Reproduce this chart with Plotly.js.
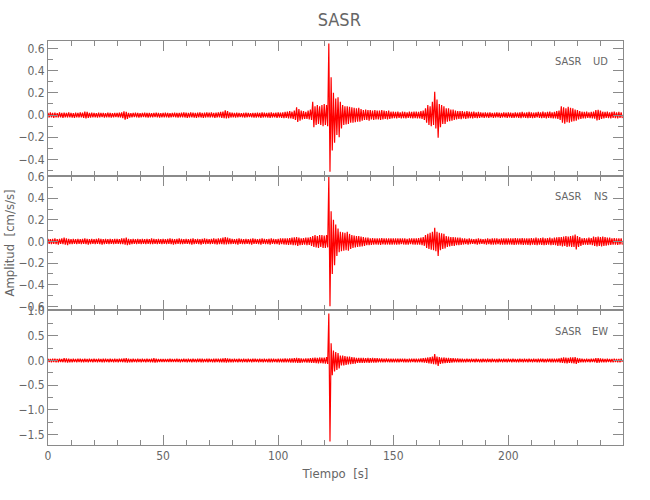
<!DOCTYPE html>
<html>
<head>
<meta charset="utf-8">
<script src="https://cdn.plot.ly/plotly-3.0.1.min.js"></script>
<style>html,body{margin:0;padding:0;background:#fff;}#chart{width:650px;height:500px;}</style>
</head>
<body>
<div id="chart"></div>
<script>
// Per-second envelope (max / min) of each component, cm/s/s
const UD_max = [
.02,.025,.02,.022,.018,.025,.02,.022,.02,.025,
.02,.018,.022,.02,.025,.022,.03,.028,.02,.022,
.02,.018,.022,.02,.02,.018,.022,.02,.018,.02,
.02,.022,.025,.033,.03,.02,.018,.02,.022,.02,
.018,.02,.022,.02,.02,.018,.02,.022,.02,.018,
.02,.022,.02,.018,.02,.022,.02,.02,.022,.025,
.022,.02,.025,.022,.02,.022,.025,.02,.022,.025,
.022,.025,.02,.022,.025,.028,.03,.042,.035,.025,
.022,.02,.022,.02,.018,.02,.022,.02,.018,.02,
.02,.022,.02,.025,.022,.02,.022,.025,.02,.022,
.025,.022,.025,.028,.03,.035,.03,.04,.07,.055,
.04,.035,.03,.04,.05,.12,.08,.09,.08,.09,
.1,.09,.645,.34,.2,.15,.16,.12,.09,.08,
.08,.075,.07,.065,.06,.065,.055,.045,.05,.045,
.045,.04,.045,.04,.04,.045,.04,.035,.04,.03,
.03,.028,.03,.025,.03,.028,.025,.03,.028,.03,
.03,.028,.035,.04,.06,.09,.08,.12,.21,.14,
.1,.09,.08,.06,.06,.05,.05,.04,.036,.035,
.035,.03,.036,.03,.028,.03,.025,.028,.025,.022,
.025,.022,.025,.02,.022,.025,.022,.02,.025,.022,
.025,.022,.02,.025,.022,.025,.028,.022,.025,.028,
.025,.022,.025,.028,.025,.03,.025,.028,.03,.025,
.028,.035,.04,.078,.07,.06,.075,.065,.06,.05,
.045,.035,.03,.028,.03,.025,.028,.03,.045,.048,
.04,.03,.028,.03,.025,.028,.03,.025,.028,.025];
const UD_min = [
-.022,-.02,-.025,-.02,-.022,-.02,-.025,-.02,-.022,-.02,
-.022,-.025,-.02,-.022,-.02,-.025,-.03,-.025,-.022,-.02,
-.02,-.022,-.02,-.018,-.022,-.02,-.02,-.022,-.02,-.018,
-.02,-.022,-.028,-.042,-.035,-.022,-.02,-.018,-.02,-.022,
-.02,-.018,-.02,-.022,-.02,-.02,-.018,-.02,-.022,-.02,
-.02,-.02,-.022,-.02,-.018,-.02,-.022,-.02,-.02,-.022,
-.025,-.022,-.02,-.022,-.025,-.02,-.022,-.025,-.022,-.02,
-.022,-.02,-.025,-.022,-.022,-.025,-.028,-.03,-.028,-.022,
-.02,-.022,-.02,-.018,-.02,-.022,-.02,-.018,-.02,-.022,
-.022,-.02,-.025,-.022,-.02,-.022,-.025,-.022,-.02,-.025,
-.022,-.025,-.028,-.025,-.03,-.03,-.035,-.045,-.063,-.05,
-.04,-.035,-.035,-.04,-.045,-.11,-.09,-.08,-.09,-.1,
-.09,-.1,-.51,-.32,-.25,-.18,-.2,-.12,-.09,-.085,
-.08,-.07,-.07,-.065,-.06,-.06,-.05,-.045,-.045,-.05,
-.04,-.045,-.04,-.04,-.045,-.04,-.035,-.04,-.035,-.03,
-.028,-.03,-.025,-.03,-.028,-.03,-.025,-.028,-.03,-.028,
-.03,-.03,-.035,-.045,-.07,-.09,-.1,-.09,-.12,-.205,
-.11,-.08,-.08,-.06,-.055,-.05,-.045,-.04,-.035,-.036,
-.03,-.035,-.03,-.028,-.03,-.025,-.028,-.025,-.022,-.025,
-.022,-.025,-.02,-.025,-.022,-.02,-.025,-.022,-.022,-.025,
-.022,-.025,-.025,-.022,-.025,-.028,-.022,-.025,-.028,-.025,
-.028,-.025,-.022,-.025,-.028,-.025,-.03,-.025,-.028,-.03,
-.03,-.035,-.045,-.07,-.078,-.065,-.07,-.06,-.055,-.05,
-.04,-.035,-.03,-.03,-.025,-.028,-.03,-.032,-.048,-.045,
-.035,-.03,-.025,-.028,-.03,-.025,-.028,-.03,-.025,-.028];
const NS_max = [
.025,.022,.025,.028,.022,.025,.028,.035,.03,.025,
.022,.025,.022,.025,.022,.025,.028,.025,.022,.025,
.022,.025,.028,.025,.022,.025,.022,.025,.022,.025,
.025,.022,.028,.03,.035,.025,.022,.025,.022,.025,
.022,.025,.022,.025,.022,.028,.025,.022,.025,.022,
.025,.022,.025,.028,.025,.022,.025,.028,.025,.022,
.025,.022,.025,.028,.022,.025,.022,.025,.028,.025,
.022,.025,.028,.025,.03,.028,.035,.04,.035,.028,
.025,.022,.025,.028,.025,.022,.025,.022,.025,.028,
.025,.022,.025,.028,.025,.022,.025,.028,.025,.022,
.025,.028,.03,.028,.03,.032,.035,.038,.04,.035,
.03,.032,.035,.035,.04,.05,.06,.05,.06,.06,
.055,.06,.6,.28,.2,.157,.12,.09,.085,.08,
.09,.07,.06,.055,.05,.05,.046,.04,.035,.035,
.03,.032,.03,.028,.03,.032,.03,.028,.03,.028,
.03,.028,.03,.028,.03,.028,.025,.028,.03,.028,
.03,.032,.035,.04,.06,.07,.08,.09,.126,.09,
.08,.075,.07,.05,.045,.04,.04,.038,.035,.035,
.03,.028,.025,.028,.025,.022,.025,.028,.025,.022,
.025,.028,.025,.028,.03,.028,.025,.028,.03,.028,
.03,.028,.03,.032,.028,.03,.032,.03,.028,.03,
.032,.03,.035,.03,.032,.035,.03,.032,.035,.03,
.035,.038,.04,.04,.045,.05,.045,.05,.055,.065,
.05,.04,.03,.032,.03,.035,.032,.045,.04,.046,
.04,.045,.04,.035,.035,.03,.032,.03,.028,.03];
const NS_min = [
-.022,-.025,-.022,-.025,-.028,-.022,-.025,-.03,-.035,-.025,
-.025,-.022,-.025,-.022,-.025,-.022,-.025,-.028,-.025,-.022,
-.025,-.022,-.025,-.028,-.025,-.022,-.025,-.022,-.025,-.022,
-.022,-.025,-.025,-.03,-.035,-.028,-.025,-.022,-.025,-.022,
-.025,-.022,-.025,-.022,-.025,-.025,-.022,-.025,-.022,-.025,
-.022,-.025,-.022,-.025,-.028,-.025,-.022,-.025,-.025,-.022,
-.022,-.025,-.028,-.025,-.022,-.025,-.028,-.022,-.025,-.022,
-.025,-.022,-.025,-.028,-.025,-.025,-.028,-.028,-.025,-.025,
-.022,-.025,-.028,-.022,-.025,-.025,-.022,-.025,-.028,-.022,
-.022,-.025,-.028,-.022,-.025,-.025,-.028,-.022,-.025,-.025,
-.028,-.025,-.028,-.03,-.032,-.03,-.035,-.035,-.04,-.035,
-.032,-.03,-.035,-.032,-.04,-.05,-.055,-.06,-.05,-.06,
-.06,-.055,-.6,-.3,-.22,-.135,-.1,-.09,-.085,-.08,
-.085,-.07,-.06,-.055,-.05,-.048,-.045,-.04,-.035,-.035,
-.032,-.03,-.028,-.03,-.032,-.028,-.03,-.028,-.03,-.03,
-.028,-.03,-.028,-.025,-.028,-.03,-.028,-.025,-.028,-.03,
-.03,-.03,-.035,-.04,-.06,-.07,-.075,-.08,-.09,-.135,
-.08,-.07,-.065,-.05,-.045,-.042,-.04,-.035,-.035,-.032,
-.028,-.025,-.028,-.025,-.022,-.025,-.028,-.025,-.022,-.025,
-.028,-.025,-.028,-.03,-.028,-.025,-.028,-.03,-.028,-.03,
-.028,-.03,-.032,-.03,-.028,-.03,-.032,-.03,-.032,-.035,
-.03,-.032,-.035,-.03,-.032,-.035,-.032,-.03,-.035,-.032,
-.035,-.04,-.038,-.045,-.04,-.05,-.045,-.05,-.05,-.074,
-.05,-.04,-.032,-.03,-.032,-.03,-.035,-.04,-.045,-.04,
-.045,-.04,-.038,-.035,-.032,-.03,-.03,-.032,-.028,-.03];
const EW_max = [
.035,.03,.035,.038,.032,.035,.03,.045,.042,.035,
.032,.035,.03,.035,.038,.032,.035,.03,.035,.032,
.035,.032,.035,.03,.035,.038,.032,.035,.03,.035,
.032,.035,.038,.04,.045,.035,.032,.035,.03,.035,
.032,.035,.03,.035,.032,.035,.045,.035,.03,.032,
.03,.032,.03,.035,.03,.032,.035,.03,.032,.035,
.032,.035,.03,.035,.032,.035,.038,.035,.032,.035,
.035,.032,.035,.038,.035,.035,.04,.045,.04,.035,
.032,.035,.03,.035,.032,.035,.03,.035,.032,.035,
.035,.032,.035,.03,.035,.032,.035,.038,.035,.032,
.035,.038,.035,.04,.038,.04,.042,.045,.05,.045,
.04,.038,.04,.042,.045,.05,.055,.05,.06,.055,
.06,.07,.95,.35,.2,.17,.15,.1,.1,.09,
.08,.08,.07,.065,.05,.05,.05,.05,.045,.05,
.045,.05,.045,.045,.04,.04,.038,.04,.035,.038,
.035,.038,.035,.035,.038,.035,.032,.035,.038,.035,
.035,.038,.04,.045,.05,.06,.07,.08,.128,.08,
.07,.06,.06,.05,.05,.045,.045,.04,.04,.038,
.035,.032,.035,.03,.035,.032,.035,.03,.032,.035,
.032,.035,.03,.035,.032,.03,.035,.032,.035,.03,
.035,.032,.035,.03,.032,.035,.03,.035,.032,.035,
.03,.035,.032,.035,.038,.035,.032,.035,.038,.035,
.035,.038,.04,.05,.06,.055,.05,.06,.065,.067,
.05,.04,.035,.032,.035,.032,.035,.038,.045,.047,
.04,.035,.032,.035,.03,.032,.035,.03,.032,.035];
const EW_min = [
-.032,-.035,-.03,-.035,-.035,-.032,-.035,-.04,-.045,-.035,
-.035,-.03,-.035,-.032,-.035,-.035,-.03,-.035,-.032,-.035,
-.03,-.035,-.032,-.035,-.035,-.03,-.035,-.032,-.035,-.03,
-.035,-.032,-.035,-.04,-.045,-.038,-.035,-.03,-.035,-.032,
-.035,-.03,-.035,-.032,-.035,-.038,-.042,-.035,-.032,-.03,
-.032,-.03,-.032,-.03,-.032,-.03,-.032,-.035,-.03,-.032,
-.035,-.032,-.035,-.03,-.035,-.032,-.035,-.035,-.03,-.035,
-.032,-.035,-.035,-.032,-.035,-.038,-.04,-.045,-.04,-.035,
-.035,-.032,-.035,-.03,-.035,-.032,-.035,-.03,-.035,-.032,
-.032,-.035,-.03,-.035,-.032,-.035,-.038,-.035,-.032,-.035,
-.038,-.035,-.04,-.038,-.04,-.042,-.045,-.045,-.05,-.048,
-.042,-.04,-.042,-.045,-.048,-.05,-.055,-.06,-.055,-.06,
-.065,-.07,-1.64,-.3,-.22,-.19,-.16,-.1,-.1,-.09,
-.08,-.075,-.07,-.065,-.05,-.05,-.048,-.05,-.045,-.048,
-.045,-.045,-.042,-.04,-.04,-.038,-.04,-.035,-.038,-.035,
-.035,-.035,-.038,-.032,-.035,-.035,-.038,-.035,-.032,-.035,
-.038,-.035,-.04,-.045,-.05,-.06,-.065,-.075,-.08,-.11,
-.07,-.06,-.055,-.05,-.048,-.045,-.04,-.04,-.038,-.035,
-.035,-.035,-.032,-.035,-.03,-.035,-.032,-.035,-.035,-.032,
-.035,-.032,-.035,-.032,-.035,-.035,-.032,-.035,-.03,-.035,
-.032,-.035,-.03,-.035,-.035,-.032,-.035,-.032,-.035,-.03,
-.035,-.032,-.035,-.035,-.032,-.038,-.035,-.032,-.035,-.038,
-.038,-.035,-.042,-.05,-.055,-.06,-.05,-.055,-.06,-.067,
-.05,-.04,-.035,-.035,-.032,-.035,-.032,-.035,-.047,-.045,
-.038,-.035,-.035,-.032,-.035,-.035,-.032,-.035,-.035,-.032];

const station = 'SASR';
const components = ['UD', 'NS', 'EW'];
const xTitle = 'Tiempo\u00a0 [s]';
const yTitle = 'Amplitud\u00a0 [cm/s/s]';

// 1-s bins: the max of each second drawn at its start, the min half a second later
function trace(maxArr, minArr, xa, ya) {
  const x = [], y = [];
  for (let i = 0; i < maxArr.length; i++) {
    x.push(i, i + 0.5);
    y.push(maxArr[i], minArr[i]);
  }
  return {x: x, y: y, xaxis: xa, yaxis: ya, type: 'scatter', mode: 'lines',
          line: {color: '#ff0000', width: 1.2}, hoverinfo: 'skip', showlegend: false};
}

const FONT = '"Liberation Sans Narrow", "DejaVu Sans Condensed", "Liberation Sans", sans-serif';
const GRAY = '#8a8a8a';
const TXT = '#666666';
const XRANGE = [0, 249.8];

function axisBase() {
  return {showline: true, linecolor: GRAY, linewidth: 1, mirror: 'ticks',
          ticks: 'inside', ticklen: 10, tickwidth: 1, tickcolor: GRAY,
          showgrid: false, zeroline: false,
          tickfont: {family: FONT, size: 12, color: TXT}};
}

const xb = Object.assign(axisBase(), {domain: [0, 1], anchor: 'y3', range: XRANGE, tick0: 0, dtick: 50,
  minor: {ticks: 'inside', ticklen: 5, dtick: 10, tickcolor: GRAY},
  title: {text: xTitle, font: {family: FONT, size: 13, color: TXT}, standoff: 6}});
const x2 = Object.assign(axisBase(), {domain: [0, 1], anchor: 'y2', matches: 'x', range: XRANGE, tick0: 0, dtick: 50,
  showticklabels: false, minor: {ticks: 'inside', ticklen: 5, dtick: 10, tickcolor: GRAY}});
const x3 = Object.assign(axisBase(), {domain: [0, 1], anchor: 'y', matches: 'x', range: XRANGE, tick0: 0, dtick: 50,
  showticklabels: false, minor: {ticks: 'inside', ticklen: 5, dtick: 10, tickcolor: GRAY}});

const y1 = Object.assign(axisBase(), {domain: [2/3, 1], anchor: 'x3', range: [-0.546, 0.667], tick0: 0, dtick: 0.2,
  tickformat: '.1f', minor: {ticks: 'inside', ticklen: 5, dtick: 0.1, tickcolor: GRAY}});
const y2 = Object.assign(axisBase(), {domain: [1/3, 2/3], anchor: 'x2', range: [-0.637, 0.609], tick0: 0, dtick: 0.2,
  tickformat: '.1f', minor: {ticks: 'inside', ticklen: 5, dtick: 0.1, tickcolor: GRAY},
  title: {text: yTitle, font: {family: FONT, size: 13, color: TXT}, standoff: 0}});
const y3 = Object.assign(axisBase(), {domain: [0, 1/3], anchor: 'x', range: [-1.71, 1.014], tick0: 0, dtick: 0.5,
  tickformat: '.1f', minor: {ticks: 'inside', ticklen: 5, dtick: 0.25, tickcolor: GRAY}});

const yrefs = ['y domain', 'y2 domain', 'y3 domain'];
const annotations = [];
components.forEach(function (c, k) {
  annotations.push({xref: 'paper', yref: yrefs[k], x: (584 - 48) / 575, y: 0.845, xanchor: 'right', yanchor: 'middle',
    text: station, showarrow: false, font: {family: FONT, size: 11, color: TXT}});
  annotations.push({xref: 'paper', yref: yrefs[k], x: (610 - 48) / 575, y: 0.845, xanchor: 'right', yanchor: 'middle',
    text: c, showarrow: false, font: {family: FONT, size: 11, color: TXT}});
});

const layout = {
  width: 650, height: 500,
  margin: {l: 48, r: 27, t: 41, b: 55, pad: 0},
  paper_bgcolor: '#ffffff', plot_bgcolor: '#ffffff',
  title: {text: station, font: {family: FONT, size: 18, color: TXT}, xref: 'container', x: 0.522, y: 0.96,
          xanchor: 'center', yanchor: 'middle'},
  xaxis: xb, xaxis2: x2, xaxis3: x3,
  yaxis: y1, yaxis2: y2, yaxis3: y3,
  annotations: annotations,
  showlegend: false
};

const data = [
  trace(UD_max, UD_min, 'x3', 'y'),
  trace(NS_max, NS_min, 'x2', 'y2'),
  trace(EW_max, EW_min, 'x', 'y3')
];

Plotly.newPlot('chart', data, layout, {staticPlot: true, displayModeBar: false});
</script>
</body>
</html>
